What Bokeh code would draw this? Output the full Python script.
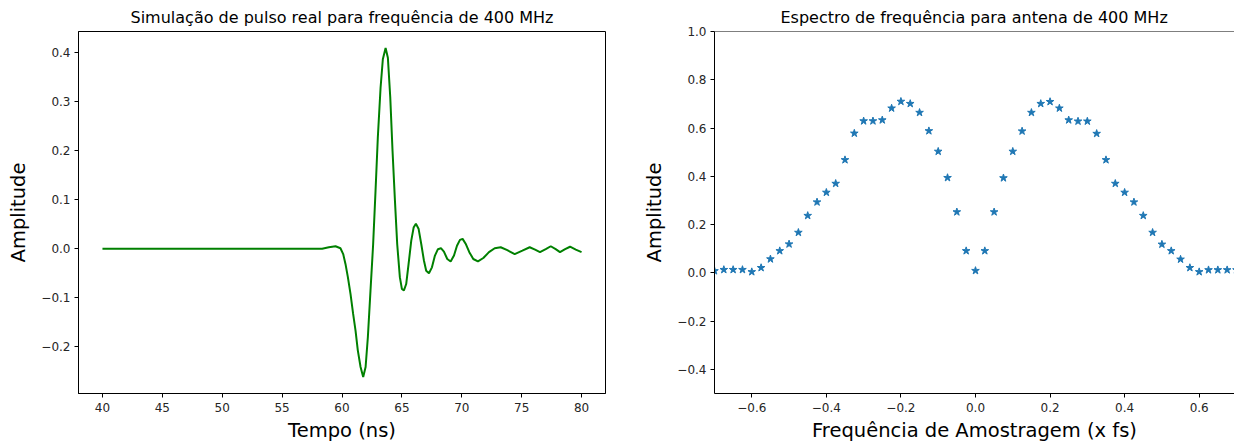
from bokeh.plotting import figure
from bokeh.layouts import row
from bokeh.models import Range1d, FixedTicker, CustomJSTickFormatter, Span
from bokeh.embed import file_html
from bokeh.resources import INLINE

# ---- data: simulated pulse (left) ----
t_ns = [40.0, 58.34, 58.90, 59.46, 59.87, 60.10, 60.29, 60.49, 60.71, 60.93, 61.13, 61.32,
        61.55, 61.77, 61.97, 62.16, 62.38, 62.60, 62.80, 62.99, 63.22, 63.41, 63.64, 63.83,
        64.03, 64.22, 64.42, 64.61, 64.83, 65.00, 65.17, 65.36, 65.56, 65.78, 65.98, 66.17,
        66.40, 66.62, 66.84, 67.03, 67.26, 67.51, 67.76, 68.01, 68.26, 68.51, 68.79, 69.07,
        69.35, 69.60, 69.85, 70.07, 70.35, 70.63, 70.96, 71.35, 71.80, 72.27, 72.75, 73.25,
        73.80, 74.42, 75.06, 75.67, 76.12, 76.53, 77.01, 77.43, 77.84, 78.20, 78.63, 79.04,
        79.52, 80.00]
amp = [0.0, 0.0, 0.003, 0.005, 0.001, -0.011, -0.031, -0.058, -0.092, -0.133, -0.167, -0.207,
       -0.241, -0.2615, -0.241, -0.180, -0.085, 0.009, 0.118, 0.226, 0.328, 0.386, 0.409, 0.389,
       0.308, 0.199, 0.098, 0.009, -0.058, -0.082, -0.085, -0.072, -0.031, 0.016, 0.043, 0.051,
       0.040, 0.009, -0.024, -0.045, -0.050, -0.038, -0.014, -0.001, 0.001, -0.006, -0.021, -0.026,
       -0.014, 0.006, 0.018, 0.020, 0.009, -0.007, -0.021, -0.026, -0.019, -0.007, 0.001, 0.003,
       -0.003, -0.011, -0.004, 0.003, -0.002, -0.007, -0.001, 0.005, -0.001, -0.007, -0.001, 0.004,
       -0.002, -0.007]

# ---- data: spectrum (right) ----
freq = [-0.700, -0.675, -0.650, -0.625, -0.600, -0.575, -0.550, -0.525, -0.500, -0.475,
        -0.450, -0.425, -0.400, -0.375, -0.350, -0.325, -0.300, -0.275, -0.250, -0.225,
        -0.200, -0.175, -0.150, -0.125, -0.100, -0.075, -0.050, -0.025, 0.000, 0.025,
        0.050, 0.075, 0.100, 0.125, 0.150, 0.175, 0.200, 0.225, 0.250, 0.275,
        0.300, 0.325, 0.350, 0.375, 0.400, 0.425, 0.450, 0.475, 0.500, 0.525,
        0.550, 0.575, 0.600, 0.625, 0.650, 0.675, 0.700]
spec = [0.008, 0.013, 0.013, 0.013, 0.004, 0.021, 0.057, 0.091, 0.119, 0.167,
        0.237, 0.293, 0.333, 0.370, 0.468, 0.578, 0.629, 0.629, 0.633, 0.682,
        0.710, 0.701, 0.664, 0.588, 0.503, 0.394, 0.252, 0.091, 0.009, 0.091,
        0.252, 0.393, 0.503, 0.587, 0.664, 0.701, 0.709, 0.682, 0.633, 0.628,
        0.628, 0.577, 0.468, 0.370, 0.333, 0.293, 0.237, 0.167, 0.118, 0.091,
        0.056, 0.021, 0.004, 0.012, 0.012, 0.012, 0.012]

left_xticks = [40, 45, 50, 55, 60, 65, 70, 75, 80]
left_yticks = [-0.2, -0.1, 0.0, 0.1, 0.2, 0.3, 0.4]
right_xticks = [-0.6, -0.4, -0.2, 0.0, 0.2, 0.4, 0.6]
right_yticks = [-0.4, -0.2, 0.0, 0.2, 0.4, 0.6, 0.8, 1.0]

FONT = "DejaVu Sans"
TXT = "#262626"
H = 445


def fmt1():
    return CustomJSTickFormatter(code="return tick.toFixed(1).replace('-', '\\u2212');")


def style(p, xlabel, ylabel):
    p.grid.visible = False
    p.background_fill_color = "white"
    p.border_fill_color = "white"
    p.title.text_font = FONT
    p.title.text_font_size = "16px"
    p.title.text_font_style = "normal"
    p.title.text_color = "black"
    p.title.standoff = 9
    p.xaxis.axis_label = xlabel
    p.yaxis.axis_label = ylabel
    for ax in (p.xaxis[0], p.yaxis[0]):
        ax.axis_label_text_font = FONT
        ax.axis_label_text_font_size = "19.5px"
        ax.axis_label_text_font_style = "normal"
        ax.axis_label_text_color = "black"
        ax.major_label_text_font = FONT
        ax.major_label_text_font_size = "12px"
        ax.major_label_text_color = TXT
        ax.axis_line_color = "black"
        ax.axis_line_width = 1
        ax.major_tick_line_color = "black"
        ax.major_tick_in = 0
        ax.major_tick_out = 4
        ax.minor_tick_line_color = None
        ax.major_label_standoff = 4
    p.xaxis[0].major_label_standoff = 5
    p.xaxis[0].axis_label_standoff = 4
    p.yaxis[0].axis_label_standoff = 8


# ---- left figure ----
ymin, ymax = min(amp), max(amp)
pad = 0.05 * (ymax - ymin)
p1 = figure(width=640, height=H, output_backend="svg", toolbar_location=None,
            title="Simulação de pulso real para frequência de 400 MHz",
            x_range=Range1d(38, 82), y_range=Range1d(ymin - pad, ymax + pad),
            min_border_left=78, min_border_right=35, min_border_top=31, min_border_bottom=52)
p1.title.align = "center"
p1.line(t_ns, amp, line_color="#008000", line_width=2)
style(p1, "Tempo (ns)", "Amplitude")
p1.xaxis[0].ticker = FixedTicker(ticks=left_xticks)
p1.yaxis[0].ticker = FixedTicker(ticks=left_yticks)
p1.yaxis[0].formatter = fmt1()
p1.outline_line_color = "black"
p1.outline_line_alpha = 1
p1.outline_line_width = 1

# ---- right figure ----
p2 = figure(width=594, height=H, output_backend="svg", toolbar_location=None,
            title="Espectro de frequência para antena de 400 MHz",
            x_range=Range1d(-0.7, 0.6947), y_range=Range1d(-0.5, 1.0),
            min_border_left=70, min_border_right=0, min_border_top=31, min_border_bottom=52)
p2.title.align = "left"
p2.title.offset = 66
p2.scatter(freq, spec, marker="star", size=8, fill_color="#1f77b4", line_color="#1f77b4",
           line_width=1)
style(p2, "Frequência de Amostragem (x fs)", "Amplitude")
p2.xaxis[0].ticker = FixedTicker(ticks=right_xticks)
p2.yaxis[0].ticker = FixedTicker(ticks=right_yticks)
p2.xaxis[0].formatter = fmt1()
p2.yaxis[0].formatter = fmt1()
p2.outline_line_color = None
p2.add_layout(Span(location=1.0, dimension="width", line_color="black", line_width=1))

layout = row(p1, p2)
open("out.html", "w").write(file_html(layout, INLINE))
